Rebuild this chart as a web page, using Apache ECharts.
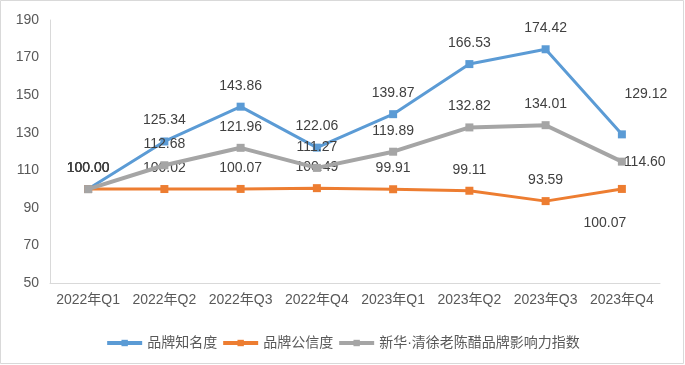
<!DOCTYPE html>
<html>
<head>
<meta charset="utf-8">
<script src="https://cdn.jsdelivr.net/npm/echarts@6/dist/echarts.min.js"></script>
<style>
html,body{margin:0;padding:0;background:#fff;}
#c{width:685px;height:365px;}
</style>
</head>
<body>
<div id="c"></div>
<script>
const categories = ['2022年Q1','2022年Q2','2022年Q3','2022年Q4','2023年Q1','2023年Q2','2023年Q3','2023年Q4'];
const awareness = [100.00, 125.34, 143.86, 122.06, 139.87, 166.53, 174.42, 129.12];
const credibility = [100.00, 100.02, 100.07, 100.49, 99.91, 99.11, 93.59, 100.07];
const influence = [100.00, 112.68, 121.96, 111.27, 119.89, 132.82, 134.01, 114.60];
const seriesNames = ['品牌知名度', '品牌公信度', '新华·清徐老陈醋品牌影响力指数'];
const yTicks = [50, 70, 90, 110, 130, 150, 170, 190];

const FONT = '"Liberation Sans", Arial, "Noto Sans CJK SC", sans-serif';
const labelBase = {show: true, position: 'top', distance: 10, color: '#404040', fontSize: 14, fontFamily: FONT,
  formatter: p => p.value.toFixed(2)};

function build(values, lastLabel) {
  return values.map((v, i) => {
    if (i === values.length - 1 && lastLabel) return {value: v, label: lastLabel};
    return v;
  });
}

const chart = echarts.init(document.getElementById('c'), null, {renderer: 'canvas'});
chart.setOption({
  animation: false,
  backgroundColor: '#fff',
  graphic: [{type: 'rect', shape: {x: 0.5, y: 0.5, width: 683, height: 363}, style: {fill: 'none', stroke: '#d9d9d9', lineWidth: 1}, silent: true, z: -1}],
  grid: {left: 50, right: 25, top: 20, bottom: 82},
  xAxis: {
    type: 'category', data: categories, boundaryGap: true,
    axisLine: {lineStyle: {color: '#d9d9d9', width: 1}},
    axisTick: {show: false},
    axisLabel: {color: '#595959', fontSize: 14, fontFamily: FONT, margin: 10, interval: 0}
  },
  yAxis: {
    type: 'value', min: yTicks[0], max: yTicks[yTicks.length - 1], interval: 20,
    axisLine: {show: true, lineStyle: {color: '#d9d9d9', width: 1}},
    axisTick: {show: false},
    splitLine: {show: false},
    axisLabel: {color: '#595959', fontSize: 14, fontFamily: FONT, margin: 11}
  },
  legend: {
    bottom: 10, left: 'center', itemWidth: 35, itemHeight: 8, itemGap: 4,
    lineStyle: {width: 4},
    textStyle: {color: '#595959', fontSize: 14, fontFamily: FONT},
    data: seriesNames
  },
  series: [
    {name: seriesNames[0], type: 'line', data: build(awareness, {position: 'top', offset: [24, -19]}),
      color: '#5B9BD5', lineStyle: {width: 3, color: '#5B9BD5'}, symbol: 'rect', symbolSize: 8,
      itemStyle: {color: '#5B9BD5'}, label: labelBase, z: 2},
    {name: seriesNames[1], type: 'line', data: build(credibility, {position: 'bottom', offset: [-17, 13]}),
      color: '#ED7D31', lineStyle: {width: 3, color: '#ED7D31'}, symbol: 'rect', symbolSize: 8,
      itemStyle: {color: '#ED7D31'}, label: labelBase, z: 3},
    {name: seriesNames[2], type: 'line', data: build(influence, {position: 'right', distance: 0, offset: [-2, 0]}),
      color: '#A5A5A5', lineStyle: {width: 4, color: '#A5A5A5'}, symbol: 'rect', symbolSize: 8,
      itemStyle: {color: '#A5A5A5'}, label: labelBase, z: 4}
  ]
});
</script>
</body>
</html>
